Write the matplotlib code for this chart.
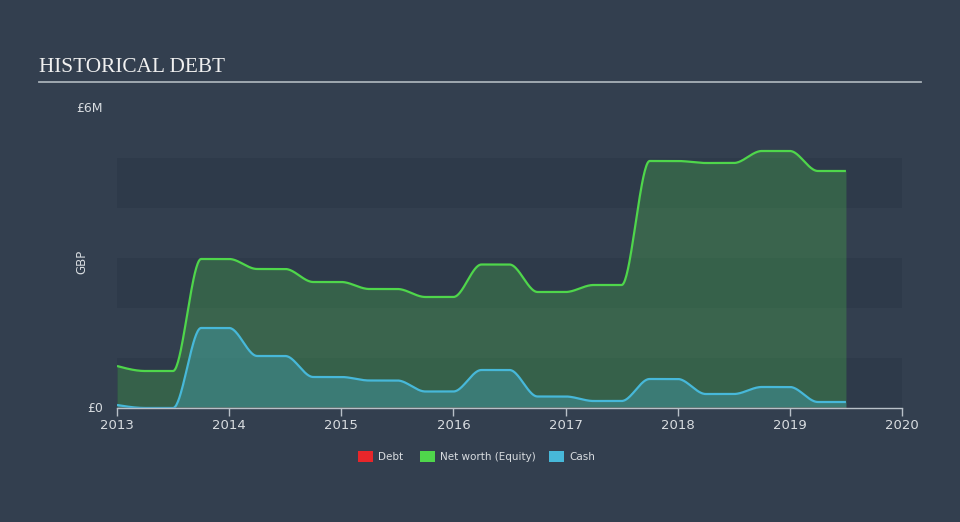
import numpy as np
import matplotlib
matplotlib.use("Agg")
import matplotlib.pyplot as plt
from matplotlib.patches import Rectangle

# ---- data (GBP millions) ----
dates = [2013.0, 2013.25, 2013.5, 2013.75, 2014.0, 2014.25, 2014.5, 2014.75,
         2015.0, 2015.25, 2015.5, 2015.75, 2016.0, 2016.25, 2016.5, 2016.75,
         2017.0, 2017.25, 2017.5, 2017.75, 2018.0, 2018.25, 2018.5, 2018.75,
         2019.0, 2019.25, 2019.5]
debt = [0.0] * len(dates)
equity = [0.84, 0.74, 0.74, 2.98, 2.98, 2.78, 2.78, 2.52,
          2.52, 2.38, 2.38, 2.22, 2.22, 2.87, 2.87, 2.32,
          2.32, 2.46, 2.46, 4.94, 4.94, 4.90, 4.90, 5.14,
          5.14, 4.74, 4.74]
cash = [0.06, 0.0, 0.0, 1.60, 1.60, 1.04, 1.04, 0.62,
        0.62, 0.55, 0.55, 0.33, 0.33, 0.76, 0.76, 0.23,
        0.23, 0.14, 0.14, 0.58, 0.58, 0.28, 0.28, 0.42,
        0.42, 0.12, 0.12]
year_ticks = [2013, 2014, 2015, 2016, 2017, 2018, 2019, 2020]
y_ticks = [0, 6]
y_tick_labels = ["£0", "£6M"]
series_names = ["Debt", "Net worth (Equity)", "Cash"]


def monotone(x, y, n=40):
    """Monotone cubic (d3 curveMonotoneX style) rendering of a series."""
    x = np.asarray(x, float); y = np.asarray(y, float)
    h = np.diff(x); s = np.diff(y) / h
    m = np.zeros_like(y)
    for i in range(1, len(y) - 1):
        if s[i - 1] * s[i] <= 0:
            m[i] = 0.0
        else:
            p = (s[i - 1] * h[i] + s[i] * h[i - 1]) / (h[i - 1] + h[i])
            m[i] = (np.sign(s[i - 1]) + np.sign(s[i])) * min(abs(s[i - 1]), abs(s[i]), 0.5 * abs(p))
    m[0] = (3 * s[0] - m[1]) / 2 if len(y) > 2 else s[0]
    m[-1] = (3 * s[-1] - m[-2]) / 2 if len(y) > 2 else s[-1]
    xs, ys = [], []
    for i in range(len(h)):
        t = np.linspace(0, 1, n, endpoint=False)
        h00 = 2 * t**3 - 3 * t**2 + 1
        h10 = t**3 - 2 * t**2 + t
        h01 = -2 * t**3 + 3 * t**2
        h11 = t**3 - t**2
        xs.append(x[i] + t * h[i])
        ys.append(h00 * y[i] + h10 * h[i] * m[i] + h01 * y[i + 1] + h11 * h[i] * m[i + 1])
    xs.append([x[-1]]); ys.append([y[-1]])
    return np.concatenate(xs), np.concatenate(ys)


BG = "#333f4f"
DARK = "#2e3a4a"
fig = plt.figure(figsize=(9.6, 5.22), dpi=100, facecolor=BG)
ax = fig.add_axes([117 / 960, 1 - 408 / 522, 785 / 960, 300 / 522])
ax.set_facecolor(BG)
ax.set_xlim(2013, 2020)
ax.set_ylim(0, 6)

for lo in (0, 2, 4):
    ax.axhspan(lo, lo + 1, color=DARK, zorder=0, lw=0)

ex, ey = monotone(dates, equity)
cx, cy = monotone(dates, cash)
ax.fill_between(ex, 0, ey, color="#4fd64b", alpha=0.25, lw=0, zorder=1)
ax.fill_between(cx, 0, cy, color="#47b8d9", alpha=0.30, lw=0, zorder=2)
ax.plot(ex, ey, color="#4fd64b", lw=1.6, zorder=3, solid_capstyle="butt")
ax.plot(cx, cy, color="#47b8d9", lw=1.6, zorder=4, solid_capstyle="butt")
ax.plot(dates, debt, color="#e8262a", lw=1.0, alpha=0.6, zorder=5)

for sp in ("top", "right", "left"):
    ax.spines[sp].set_visible(False)
ax.spines["bottom"].set_color("#b8c0c8")
ax.spines["bottom"].set_linewidth(1.0)
ax.set_xticks(year_ticks)
ax.set_xticklabels([str(y) for y in year_ticks])
ax.tick_params(axis="x", colors="#b8c0c8", length=6, width=1, labelcolor="#d8dce0",
               labelsize=9.5, pad=2)
ax.set_yticks(y_ticks)
ax.set_yticklabels(y_tick_labels)
ax.tick_params(axis="y", length=0, labelcolor="#d8dce0", labelsize=9, pad=10)
for lab in ax.get_yticklabels():
    lab.set_verticalalignment("center")
ax.set_ylabel("GBP", color="#d8dce0", fontsize=8.5)
ax.yaxis.set_label_coords((88 - 117) / 785, (408 - 262) / 300)

# title and rule
fig.text(39 / 960, 1 - 67 / 522, "HISTORICAL DEBT", family="Liberation Serif",
         fontsize=15.3, color="#f0f0f0", va="center", ha="left")
fig.add_artist(plt.Line2D([39 / 960, 921 / 960], [1 - 82 / 522, 1 - 82 / 522],
                          color="#a8b0b8", lw=1.3))

# legend
leg_colors = ["#e8262a", "#4fd64b", "#47b8d9"]
leg_x = [358, 420, 549]
for name, col, lx in zip(series_names, leg_colors, leg_x):
    fig.add_artist(Rectangle((lx / 960, 1 - 462 / 522), 15 / 960, 11 / 522,
                             transform=fig.transFigure, color=col, lw=0))
    fig.text((lx + 20) / 960, 1 - 457 / 522, name, fontsize=7.5, color="#d8dce0",
             va="center", ha="left")

fig.savefig("out.png", dpi=100, facecolor=BG)
